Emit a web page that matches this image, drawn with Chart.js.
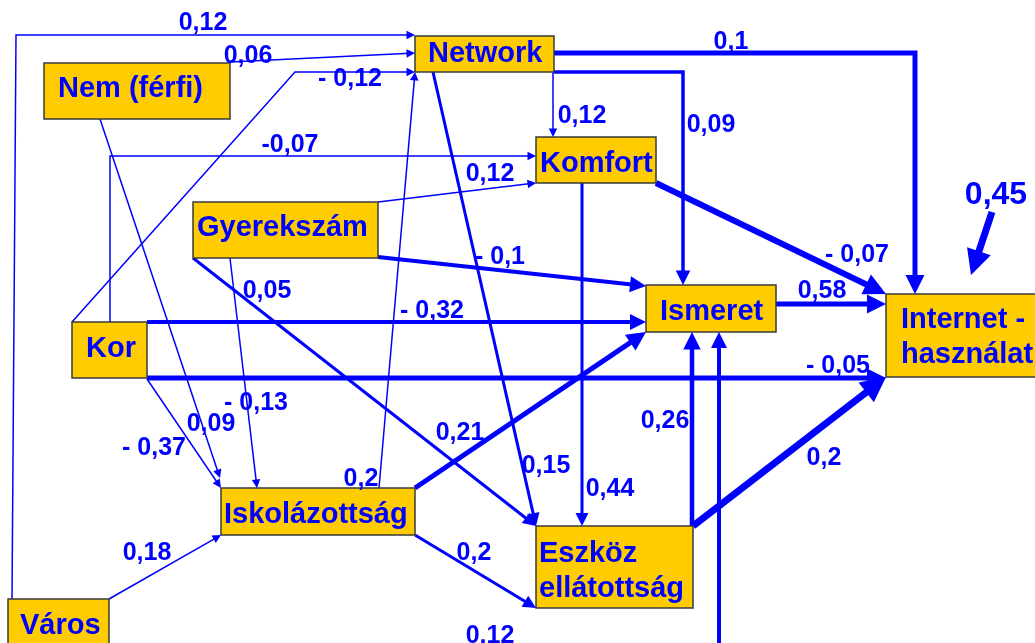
<!DOCTYPE html>
<html lang="hu">
<head>
    <meta charset="UTF-8">
    <title>Internet-használat útmodell</title>
    <script src="https://cdn.jsdelivr.net/npm/chart.js"></script>
    <style>
body {
    margin: 0;
    background: #fff;
    overflow: hidden;
}

.wrap {
    width: 1035px;
    height: 643px;
    position: relative;
}
    </style>
</head>
<body>
    <div class="wrap">
        <canvas id="pathChart"></canvas>
    </div>
    <script>
// variables of the model
const nodeNames = ['Network', 'Nem (férfi)', 'Komfort', 'Gyerekszám', 'Ismeret', 'Kor',
    'Internet -\nhasználat', 'Iskolázottság', 'Város', 'Eszköz\nellátottság'];

// path coefficients (from -> to)
const edgeFrom = ['Város', 'Nem (férfi)', 'Kor', 'Kor', 'Gyerekszám', 'Network', 'Network', 'Network',
    'Komfort', 'Gyerekszám', 'Kor', 'Ismeret', 'Kor', 'Kor', 'Nem (férfi)', 'Gyerekszám', 'Iskolázottság',
    'Gyerekszám', 'Network', 'Komfort', 'Iskolázottság', 'Iskolázottság', 'Eszköz\nellátottság',
    'Eszköz\nellátottság', 'Város', 'Város'];
const edgeTo = ['Network', 'Network', 'Network', 'Komfort', 'Komfort', 'Komfort', 'Ismeret', 'Internet -\nhasználat',
    'Internet -\nhasználat', 'Ismeret', 'Ismeret', 'Internet -\nhasználat', 'Internet -\nhasználat', 'Iskolázottság',
    'Iskolázottság', 'Iskolázottság', 'Network', 'Eszköz\nellátottság', 'Eszköz\nellátottság', 'Eszköz\nellátottság',
    'Ismeret', 'Eszköz\nellátottság', 'Ismeret', 'Internet -\nhasználat', 'Ismeret', 'Iskolázottság'];
const edgeCoeffs = ['0,12', '0,06', '- 0,12', '-0,07', '0,12', '0,12', '0,09', '0,1',
    '- 0,07', '- 0,1', '- 0,32', '0,58', '- 0,05', '- 0,37', '0,09', '- 0,13', '0,2',
    '0,05', '0,15', '0,44', '0,21', '0,2', '0,26', '0,2', '0,12', '0,18'];
const residualCoeff = '0,45';

// layout (diagram units = pixels of the 1035x643 sheet)
const nodeBoxes = [[415, 36, 554, 72], [44, 63, 230, 119], [536, 137, 656, 183], [193, 202, 378, 258],
    [646, 285, 776, 332], [72, 322, 147, 378], [886, 294, 1045, 377], [221, 488, 415, 535],
    [8, 599, 109, 656], [536, 526, 693, 608]];
const nodeTextAt = [[428, 62], [58, 97], [540, 172], [197, 236], [660, 320], [86, 357],
    [901, 328], [224, 523], [20, 634], [539, 562]];

const edgePaths = [
    [[12, 599], [16, 35], [415, 35]],
    [[230, 62], [415, 53]],
    [[72, 322], [295, 72], [415, 72]],
    [[110, 322], [110, 156], [536, 156]],
    [[378, 202], [536, 183]],
    [[553, 72], [553, 137]],
    [[554, 72], [683, 72], [683, 285]],
    [[554, 53], [915, 53], [915, 294]],
    [[656, 183], [886, 294]],
    [[378, 257], [646, 286]],
    [[147, 322], [646, 322]],
    [[776, 304], [886, 304]],
    [[147, 378], [886, 378]],
    [[147, 379], [221, 488]],
    [[100, 119], [220, 478]],
    [[230, 258], [257, 488]],
    [[379, 488], [415, 72]],
    [[193, 258], [536, 526]],
    [[433, 72], [536, 526]],
    [[582, 183], [582, 526]],
    [[415, 488], [646, 332]],
    [[415, 535], [536, 608]],
    [[692, 526], [692, 332]],
    [[693, 526], [886, 377]],
    [[719, 660], [719, 332]],
    [[109, 599], [221, 535]]
];
const edgeWidths = [1.5, 1.5, 1.5, 1.5, 1.5, 1.5, 3.5, 5, 6, 4, 4, 5, 5, 1.5, 1.5, 1.5, 1.5,
    3, 3, 3, 5, 3, 4.5, 7, 4, 1.5];
const labelAt = [[203, 21], [248, 54], [350, 77], [290, 143], [490, 172], [582, 114], [711, 123],
    [731, 40], [857, 253], [500, 255], [432, 309], [822, 289], [838, 364], [154, 446], [211, 422],
    [256, 401], [361, 477], [267, 289], [546, 464], [610, 487], [460, 431], [474, 551], [665, 419],
    [824, 456], [490, 634], [147, 551]];
const residualPath = [[992, 212], [971, 275]];
const residualLabelAt = [996, 193];

const BLUE = '#0000FF';
const FONT = '"Liberation Sans", Arial, sans-serif';

function headLen(w) {
    return Math.min(4 + 3 * w, 25);
}

// pull back the last point a bit so thick lines don't stick out of the arrow tip
function trimmed(path, w) {
    const pts = path.map(p => ({ x: p[0], y: p[1] }));
    const a = pts[pts.length - 2], b = pts[pts.length - 1];
    const d = Math.hypot(b.x - a.x, b.y - a.y);
    const cut = headLen(w) * 0.6;
    pts[pts.length - 1] = { x: b.x - (b.x - a.x) / d * cut, y: b.y - (b.y - a.y) / d * cut };
    return pts;
}

const allPaths = edgePaths.concat([residualPath]);
const allWidths = edgeWidths.concat([7]);

const datasets = allPaths.map((p, i) => ({
    label: i < edgeCoeffs.length ? edgeFrom[i] + ' -> ' + edgeTo[i] : 'residual',
    data: trimmed(p, allWidths[i]),
    showLine: true,
    borderColor: BLUE,
    backgroundColor: BLUE,
    borderWidth: allWidths[i],
    pointRadius: 0,
    tension: 0,
    fill: false,
    clip: false
}));

const diagramPlugin = {
    id: 'pathDiagram',
    afterDatasetsDraw(chart) {
        const ctx = chart.ctx;
        const sx = chart.scales.x, sy = chart.scales.y;
        const px = v => sx.getPixelForValue(v);
        const py = v => sy.getPixelForValue(v);
        ctx.save();

        // boxes
        nodeNames.forEach((name, i) => {
            const [x1, y1, x2, y2] = nodeBoxes[i];
            ctx.fillStyle = '#FFCC00';
            ctx.fillRect(px(x1), py(y1), px(x2) - px(x1), py(y2) - py(y1));
            ctx.strokeStyle = '#3a3a3a';
            ctx.lineWidth = 1.5;
            ctx.strokeRect(px(x1), py(y1), px(x2) - px(x1), py(y2) - py(y1));
            ctx.fillStyle = BLUE;
            ctx.font = 'bold 29px ' + FONT;
            ctx.textAlign = 'left';
            ctx.textBaseline = 'alphabetic';
            name.split('\n').forEach((line, j) => {
                ctx.fillText(line, px(nodeTextAt[i][0]), py(nodeTextAt[i][1] + j * 35));
            });
        });

        // arrow heads
        allPaths.forEach((p, i) => {
            const a = p[p.length - 2], b = p[p.length - 1];
            const ax = px(a[0]), ay = py(a[1]), bx = px(b[0]), by = py(b[1]);
            const ang = Math.atan2(by - ay, bx - ax);
            const L = headLen(allWidths[i]), H = L * 0.5;
            ctx.fillStyle = BLUE;
            ctx.beginPath();
            ctx.moveTo(bx, by);
            ctx.lineTo(bx - L * Math.cos(ang) - H * Math.sin(ang), by - L * Math.sin(ang) + H * Math.cos(ang));
            ctx.lineTo(bx - L * Math.cos(ang) + H * Math.sin(ang), by - L * Math.sin(ang) - H * Math.cos(ang));
            ctx.closePath();
            ctx.fill();
        });

        // coefficients
        ctx.fillStyle = BLUE;
        ctx.textAlign = 'center';
        ctx.textBaseline = 'alphabetic';
        ctx.font = 'bold 25px ' + FONT;
        edgeCoeffs.forEach((c, i) => {
            ctx.fillText(c, px(labelAt[i][0]), py(labelAt[i][1] + 9));
        });
        ctx.font = 'bold 32px ' + FONT;
        ctx.fillText(residualCoeff, px(residualLabelAt[0]), py(residualLabelAt[1] + 11));
        ctx.restore();
    }
};

const ctx = document.getElementById('pathChart').getContext('2d');
const pathChart = new Chart(ctx, {
    type: 'scatter',
    data: { datasets: datasets },
    options: {
        responsive: true,
        maintainAspectRatio: false,
        animation: false,
        events: [],
        layout: { padding: 0 },
        plugins: {
            legend: { display: false },
            tooltip: { enabled: false }
        },
        scales: {
            x: { type: 'linear', display: false, min: 0, max: 1035 },
            y: { type: 'linear', display: false, min: 0, max: 643, reverse: true }
        }
    },
    plugins: [diagramPlugin]
});
    </script>
</body>
</html>
